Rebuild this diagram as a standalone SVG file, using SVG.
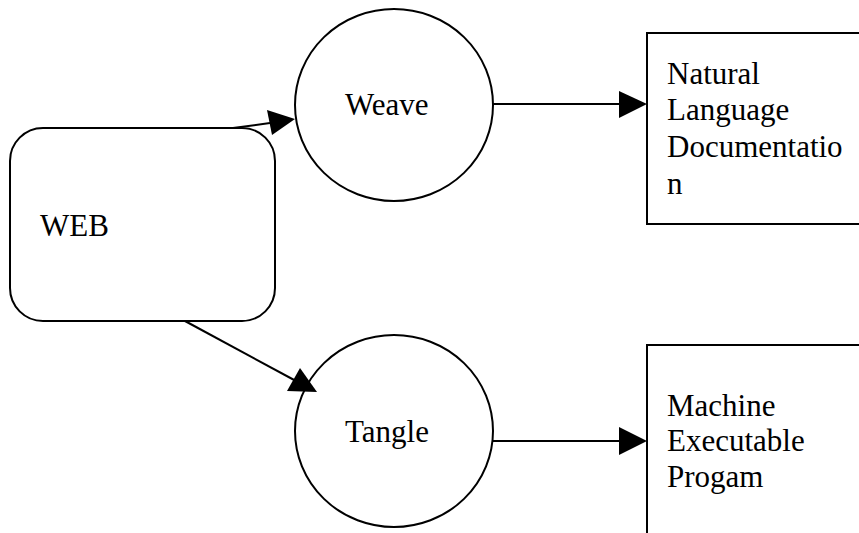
<svg xmlns="http://www.w3.org/2000/svg" width="859" height="533" viewBox="0 0 859 533">
  <style>
    .shape { fill: #ffffff; stroke: #000000; stroke-width: 2; }
    .label { font-family: "Liberation Serif", "Times New Roman", serif; font-size: 31px; fill: #000000; }
    .edge { fill: none; stroke: #000000; stroke-width: 2; }
    .head { fill: #000000; stroke: none; }
  </style>
  <rect width="859" height="533" fill="#ffffff"/>

  <g id="web">
    <rect class="shape" x="10" y="128" width="265" height="193" rx="33" ry="33"/>
    <text class="label" x="40" y="236">WEB</text>
  </g>

  <g id="weave">
    <ellipse class="shape" cx="394" cy="105" rx="99" ry="96"/>
    <text class="label" x="345" y="115">Weave</text>
  </g>

  <g id="tangle">
    <ellipse class="shape" cx="394" cy="431" rx="99" ry="96"/>
    <text class="label" x="345" y="442">Tangle</text>
  </g>

  <g id="documentation">
    <rect class="shape" x="647" y="33" width="230" height="191"/>
    <text class="label">
      <tspan x="667" y="84">Natural</tspan>
      <tspan x="667" y="120">Language</tspan>
      <tspan x="667" y="157">Documentatio</tspan>
      <tspan x="667" y="194">n</tspan>
    </text>
  </g>

  <g id="program">
    <rect class="shape" x="647" y="345" width="230" height="210"/>
    <text class="label">
      <tspan x="667" y="416">Machine</tspan>
      <tspan x="667" y="451">Executable</tspan>
      <tspan x="667" y="487">Progam</tspan>
    </text>
  </g>

  <g id="connectors">
    <!-- WEB to Weave -->
    <path class="edge" d="M233 128 L270 123"/>
    <polygon class="head" points="267,110 295,119 272,135"/>
    <!-- WEB to Tangle -->
    <path class="edge" d="M185 321 L296 381"/>
    <polygon class="head" points="300,368 287,391 317,392"/>
    <!-- Weave to documentation -->
    <path class="edge" d="M493 104 L622 104"/>
    <polygon class="head" points="619,91 647,104 619,118"/>
    <!-- Tangle to program -->
    <path class="edge" d="M493 441 L622 441"/>
    <polygon class="head" points="619,427 647,441 619,455"/>
  </g>
</svg>
